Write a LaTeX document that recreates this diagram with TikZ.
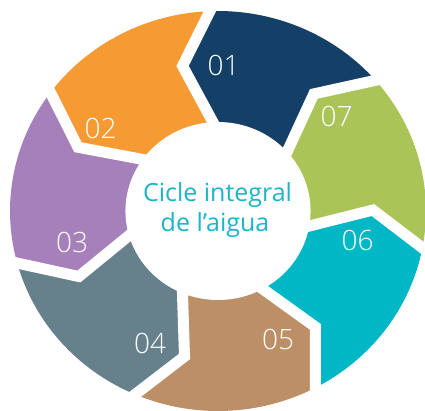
\documentclass[tikz,border=0pt]{standalone}
\usepackage{fontspec}
\setmainfont{Open Sans}
\newfontfamily\numfont{Open Sans Light}
\usetikzlibrary{calc}
\definecolor{c01}{HTML}{143F66}
\definecolor{c02}{HTML}{F69B34}
\definecolor{c03}{HTML}{A680BA}
\definecolor{c04}{HTML}{66818C}
\definecolor{c05}{HTML}{BC8F66}
\definecolor{c06}{HTML}{00B7C6}
\definecolor{c07}{HTML}{ABC458}
\definecolor{ctext}{HTML}{1AB6C8}
\tikzset{
  numlabel/.style={text=white, inner sep=0pt, font=\numfont\fontsize{28}{30}\selectfont},
  titletext/.style={text=ctext, inner sep=0pt, anchor=base, font=\fontsize{25}{30}\selectfont},
  gapline/.style={draw=white, line width=11pt, line join=miter, line cap=butt}
}
\begin{document}
\begin{tikzpicture}[x=1pt,y=1pt]
\useasboundingbox (0,0) rectangle (425,-410);
\begin{scope}[shift={(218,-211)}, xscale=1.04]
  \def\Rout{200}
  \def\Rin{86}
  \def\Rk{149}
  \def\kink{11}
  \foreach \i/\c in {0/c01,1/c02,2/c03,3/c04,4/c05,5/c06,6/c07}{
    \pgfmathsetmacro\ba{40.8+\i*51.4286}
    \pgfmathsetmacro\bb{\ba+51.4286}
    \pgfmathsetmacro\ka{\ba+\kink}
    \pgfmathsetmacro\kb{\bb+\kink}
    \fill[\c] (\ba:\Rin) -- (\ka:\Rk) -- (\ba:\Rout)
      arc[start angle=\ba, end angle=\bb, radius=\Rout]
      -- (\kb:\Rk) -- (\bb:\Rin)
      arc[start angle=\bb, end angle=\ba, radius=\Rin] -- cycle;
  }
  \foreach \i in {0,...,6}{
    \pgfmathsetmacro\ba{40.8+\i*51.4286}
    \pgfmathsetmacro\ka{\ba+\kink}
    \draw[gapline] ($(\ba:\Rin)!-0.3!(\ka:\Rk)$) -- (\ka:\Rk) -- ($(\ba:\Rout)!-0.2!(\ka:\Rk)$);
  }
  \fill[white] (0,0) circle[radius=89];
\end{scope}
\node[numlabel] (n01) at (223.5,-65) {01};
\node[numlabel] (n02) at (100.5,-128) {02};
\node[numlabel] (n03) at (72,-242.5) {03};
\node[numlabel] (n04) at (150,-343) {04};
\node[numlabel] (n05) at (278,-339) {05};
\node[numlabel] (n06) at (357.5,-240) {06};
\node[numlabel] (n07) at (336.5,-116.5) {07};
\node[titletext] (t1) at (217.5,-201.7) {Cicle integral};
\node[titletext] (t2) at (215,-231.7) {de l’aigua};
\end{tikzpicture}
\end{document}
